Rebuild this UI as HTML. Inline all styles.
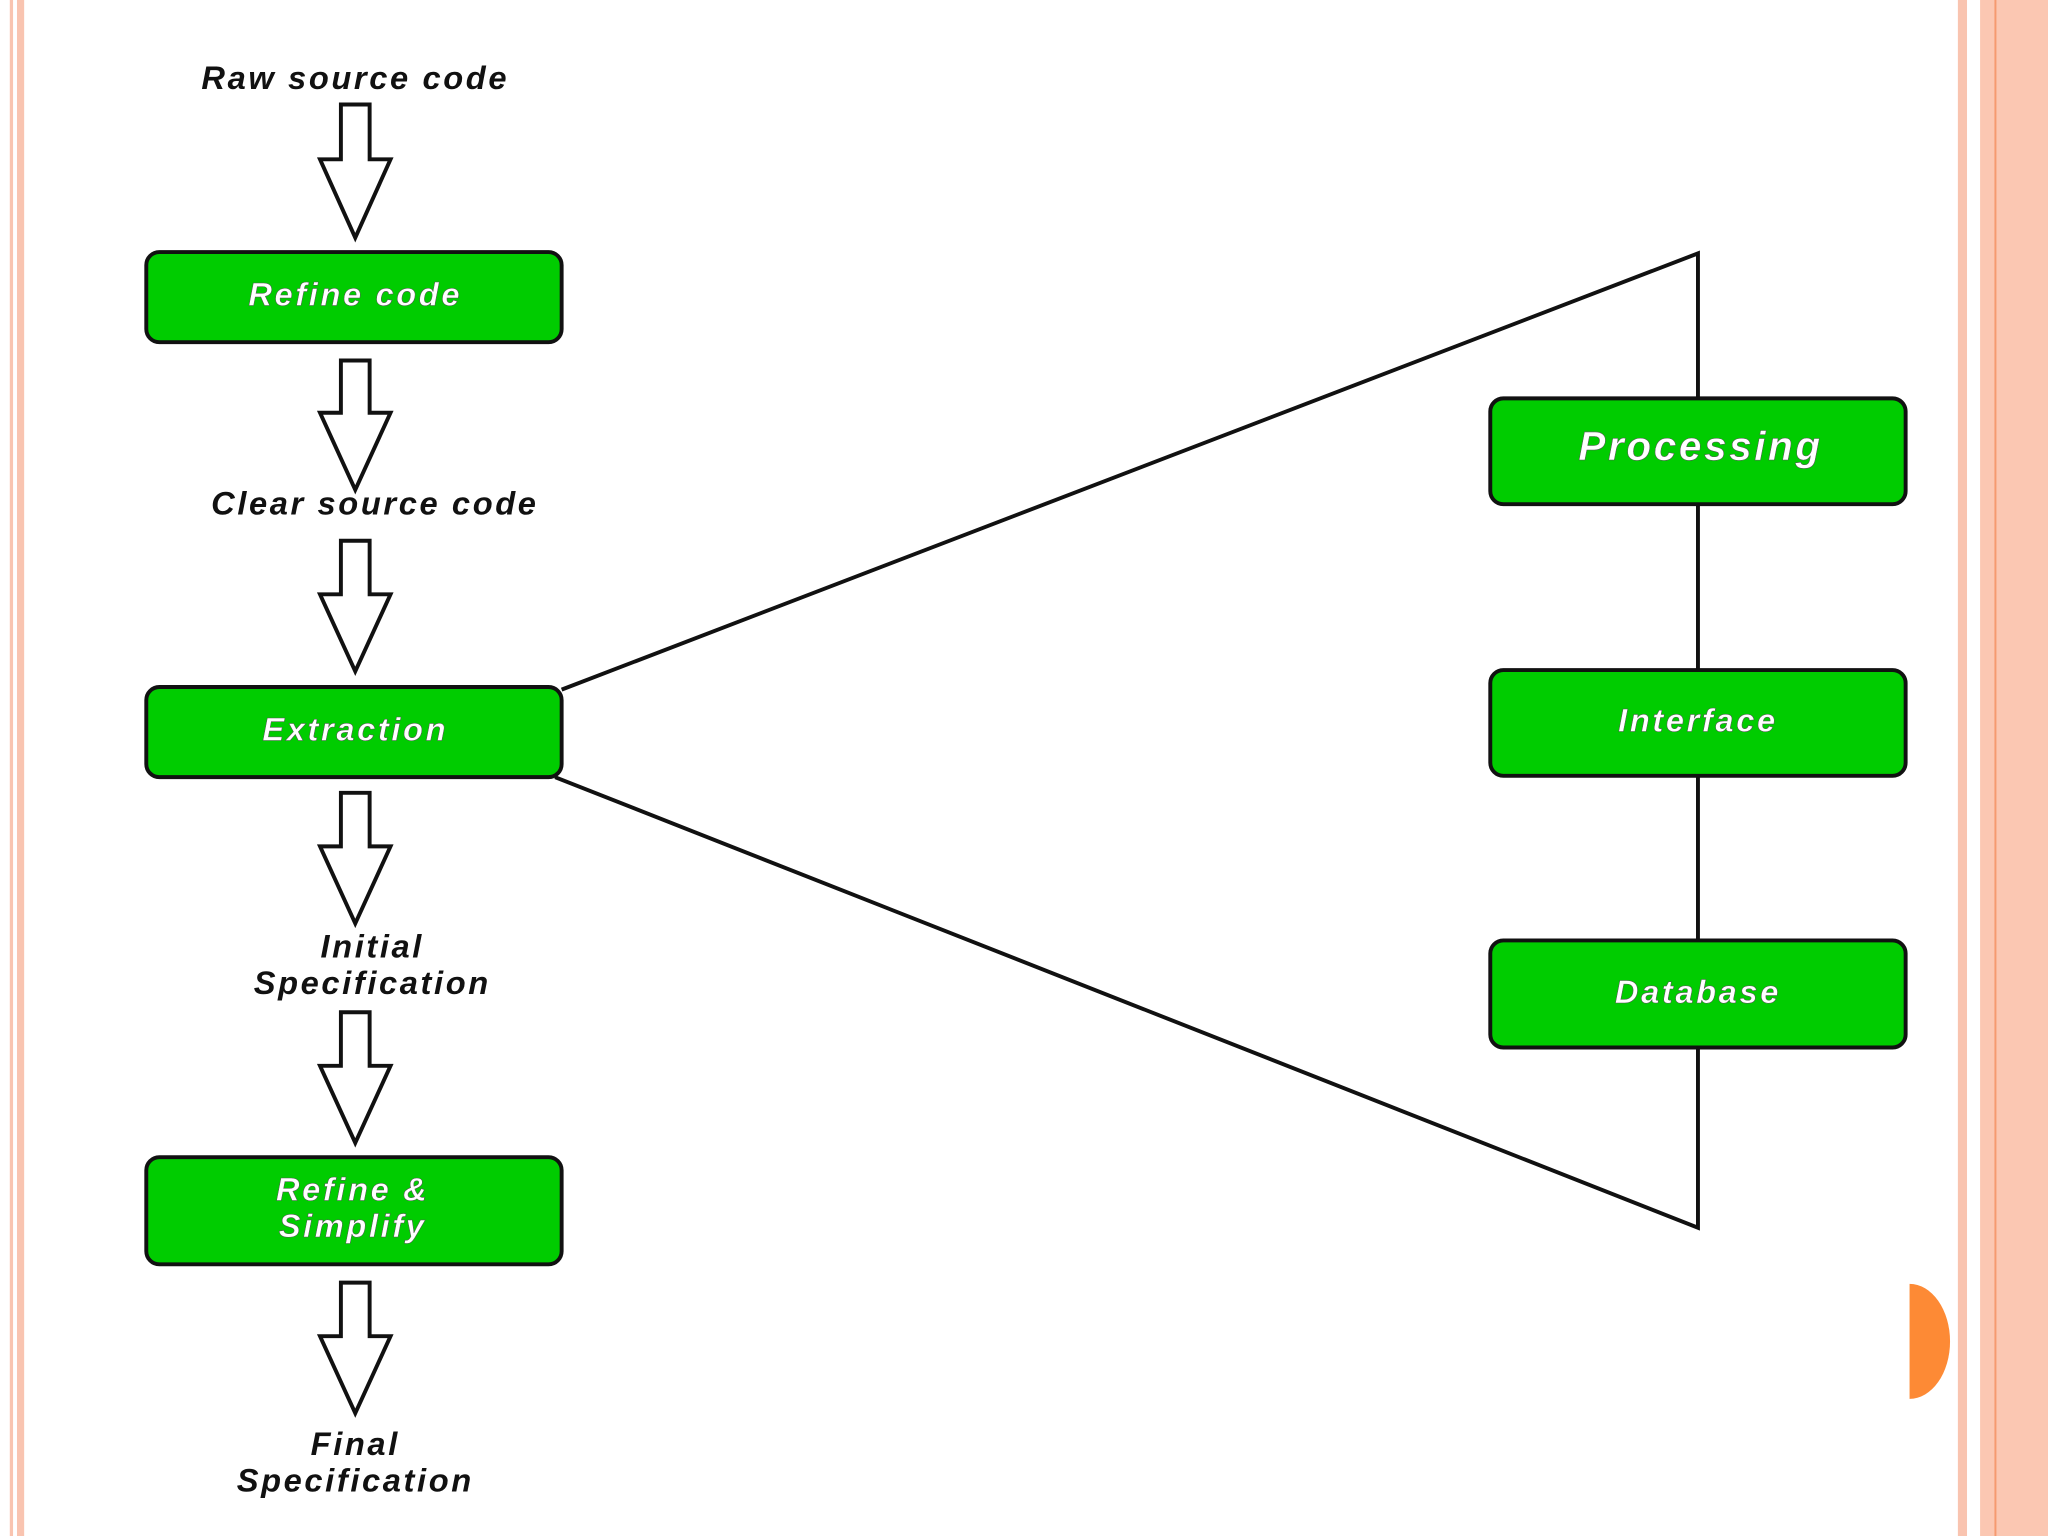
<!DOCTYPE html>
<html><head><style>html,body{margin:0;padding:0;background:#fff}svg{display:block}</style></head><body>
<svg width="2048" height="1536" viewBox="0 0 1568 1176" xmlns="http://www.w3.org/2000/svg">
<rect width="1568" height="1176" fill="#fff"/>
<rect x="7.5" y="0" width="2.5" height="1176" fill="#f9c4b0"/>
<rect x="13" y="0" width="5.5" height="1176" fill="#f9c4b0"/>
<rect x="1499" y="0" width="7" height="1176" fill="#f9c4b0"/>
<rect x="1516" y="0" width="52" height="1176" fill="#fbc7b2"/>
<rect x="1527" y="0" width="1.5" height="1176" fill="#f59a70"/>
<path d="M1462 983 A31 44 0 0 1 1462 1071 Z" fill="#fd8a35"/>
<g fill="none" stroke="#111" stroke-width="3">
<polyline points="430,528 1300,194 1300,940 425,595"/>
</g>
<g fill="#fff" stroke="#111" stroke-width="3" stroke-linejoin="miter">
<path d="M261 80 H283 V122 H299 L272 182 L245 122 H261 Z"/>
<path d="M261 276 H283 V316 H299 L272 375 L245 316 H261 Z"/>
<path d="M261 414 H283 V455 H299 L272 514 L245 455 H261 Z"/>
<path d="M261 607 H283 V648 H299 L272 707 L245 648 H261 Z"/>
<path d="M261 775 H283 V816 H299 L272 875 L245 816 H261 Z"/>
<path d="M261 982 H283 V1023 H299 L272 1082 L245 1023 H261 Z"/>
</g>
<g fill="#00cc00" stroke="#111" stroke-width="3">
<rect x="112" y="193" width="318" height="69" rx="10"/>
<rect x="112" y="526" width="318" height="69" rx="10"/>
<rect x="112" y="886" width="318" height="82" rx="10"/>
<rect x="1141" y="305" width="318" height="81" rx="10"/>
<rect x="1141" y="513" width="318" height="81" rx="10"/>
<rect x="1141" y="720" width="318" height="82" rx="10"/>
</g>
<g font-family="Liberation Sans, sans-serif" font-weight="bold" font-style="italic" text-anchor="middle" letter-spacing="2">
<g fill="#111" font-size="25">
<text x="272" y="68">Raw source code</text>
<text x="287" y="394">Clear source code</text>
<text x="285" y="733">Initial</text>
<text x="285" y="761">Specification</text>
<text x="272" y="1114">Final</text>
<text x="272" y="1142">Specification</text>
</g>
<g fill="#fff" font-size="25" stroke="#555" stroke-width="0.4">
<text x="272" y="234">Refine code</text>
<text x="272" y="567">Extraction</text>
<text x="270" y="919">Refine &amp;</text>
<text x="270" y="947">Simplify</text>
<text x="1302" y="352" font-size="31">Processing</text>
<text x="1300" y="560">Interface</text>
<text x="1300" y="768">Database</text>
</g>
</g>
</svg>
</body></html>
